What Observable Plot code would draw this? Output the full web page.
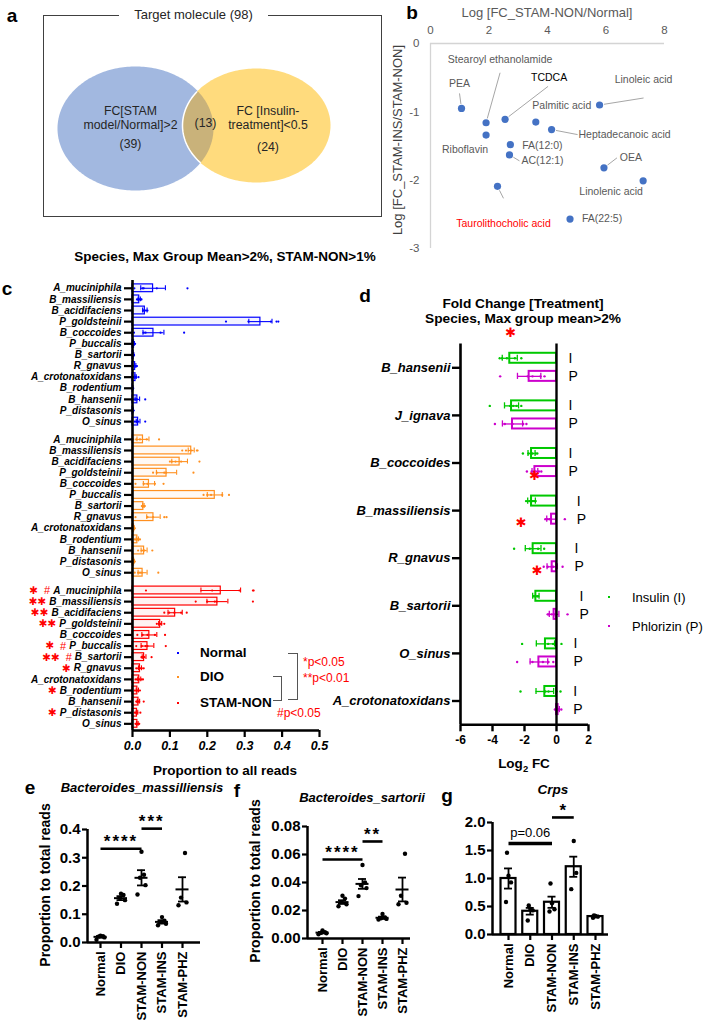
<!DOCTYPE html>
<html>
<head>
<meta charset="utf-8">
<script src="https://cdn.jsdelivr.net/npm/d3@7"></script>
<script src="https://cdn.jsdelivr.net/npm/@observablehq/plot@0.6"></script>
<style>
html,body{margin:0;padding:0;background:#fff;}
#fig{position:relative;width:703px;height:1020px;overflow:hidden;background:#fff;font-family:'Liberation Sans',Arial,sans-serif;}
#fig .t{position:absolute;white-space:pre;line-height:1;}
#fig svg{position:absolute;overflow:visible;}
</style>
</head>
<body>
<div id="fig"></div>
<script>
// ================= DATA =================
// a: Venn
const vennSetLabels = ["FC[STAM\nmodel/Normal]>2", "FC [Insulin-\ntreatment]<0.5"];
const vennCounts = [39, 13, 24];
const vennTotal = 98;

// b: metabolites
const metNames = ["PEA","Stearoyl ethanolamide","Riboflavin","TCDCA","Palmitic acid","Heptadecanoic acid","Linoleic acid","FA(12:0)","AC(12:1)","OEA","Linolenic acid","Taurolithocholic acid","FA(22:5)"];
const metLogFcStamNormal = [1.06,1.90,1.90,2.55,3.60,4.14,5.78,2.73,2.70,5.93,7.27,2.29,4.77];
const metLogFcInsNon = [-0.95,-1.16,-1.34,-1.11,-1.15,-1.26,-0.90,-1.48,-1.63,-1.82,-2.01,-2.09,-2.57];

// c: species proportions
const cSpecies = ["A_muciniphila","B_massiliensis","B_acidifaciens","P_goldsteinii","B_coccoides","P_buccalis","B_sartorii","R_gnavus","A_crotonatoxidans","B_rodentium","B_hansenii","P_distasonis","O_sinus"];
const cGroups = ["Normal","DIO","STAM-NON"];
const cMeanNormal = [0.055,0.018,0.033,0.342,0.056,0.004,0.003,0.007,0.008,0.001,0.013,0.002,0.015];
const cSemNormal  = [0.033,0.003,0.006,0.031,0.028,0.001,0.0005,0.002,0.002,0.0003,0.006,0.0004,0.005];
const cDotsNormal = [[0.005,0.027,0.03,0.065,0.147],[0.012,0.015,0.018,0.022,0.024],[0.028,0.03,0.032,0.036,0.04],[0.25,0.31,0.37,0.385,0.39],[0.004,0.03,0.035,0.075,0.138],[0.002,0.003,0.004,0.005,0.007],[0.002,0.002,0.003,0.004,0.004],[0.003,0.005,0.007,0.009,0.012],[0.003,0.005,0.008,0.01,0.016],[0,0.001,0.001,0.001,0.002],[0.004,0.008,0.01,0.012,0.034],[0.001,0.001,0.002,0.002,0.003],[0.006,0.01,0.012,0.015,0.034]];
const cMeanDIO = [0.028,0.157,0.126,0.091,0.044,0.22,0.029,0.056,0.004,0.013,0.031,0.004,0.027];
const cSemDIO  = [0.016,0.008,0.021,0.027,0.015,0.02,0.002,0.018,0.001,0.003,0.008,0.001,0.012];
const cDotsDIO = [[0.002,0.01,0.02,0.038,0.071],[0.133,0.143,0.158,0.172,0.174],[0.1,0.105,0.115,0.13,0.179],[0.055,0.065,0.085,0.09,0.163],[0.008,0.03,0.04,0.06,0.083],[0.19,0.2,0.21,0.24,0.258],[0.025,0.027,0.029,0.031,0.033],[0.008,0.04,0.055,0.085,0.091],[0.002,0.003,0.004,0.005,0.006],[0.006,0.01,0.013,0.016,0.02],[0.015,0.025,0.03,0.032,0.053],[0.002,0.003,0.004,0.005,0.006],[0.006,0.015,0.02,0.025,0.069]];
const cMeanStam = [0.236,0.227,0.114,0.074,0.045,0.04,0.031,0.02,0.018,0.013,0.016,0.012,0.013];
const cSemStam  = [0.053,0.028,0.019,0.004,0.02,0.017,0.005,0.004,0.004,0.003,0.003,0.002,0.002];
const cDotsStam = [[0.036,0.213,0.286,0.322,0.324],[0.169,0.2,0.22,0.225,0.322],[0.085,0.098,0.112,0.13,0.145],[0.065,0.07,0.074,0.077,0.085],[0.013,0.027,0.04,0.06,0.087],[0.01,0.025,0.035,0.04,0.089],[0.024,0.027,0.029,0.031,0.051],[0.01,0.015,0.02,0.025,0.03],[0.008,0.012,0.018,0.024,0.028],[0.006,0.01,0.013,0.016,0.02],[0.01,0.012,0.015,0.018,0.03],[0.006,0.009,0.011,0.013,0.021],[0.008,0.01,0.013,0.016,0.018]];
const cSigStar = [1,2,2,2,0,1,2,1,0,1,0,1,0];
const cSigHash = ["#","","","","","#","#","","","","","",""];
const cPNotes = ["*p<0.05","**p<0.01","#p<0.05"];
const cXTicks = [0,0.1,0.2,0.3,0.4,0.5];

// d: fold change
const dSpecies = ["B_hansenii","J_ignava","B_coccoides","B_massiliensis","R_gnavus","B_sartorii","O_sinus","A_crotonatoxidans"];
const dTreat = ["Insulin (I)","Phlorizin (P)"];
const dTreatTag = ["I","P"];
const dInsMean = [-2.92,-2.81,-1.56,-1.56,-1.46,-1.29,-0.69,-0.73];
const dInsSem  = [0.47,0.44,0.22,0.24,0.49,0.2,0.57,0.55];
const dInsDots = [[-3.55,-3.4,-3.1,-2.6,-2.2],[-4.17,-2.9,-2.7,-2.5,-2.2],[-2.1,-1.75,-1.5,-1.3,-1.2],[-1.9,-1.7,-1.5,-1.4,-1.3],[-2.65,-1.67,-1.15,-0.77],[-1.45,-1.35,-1.3,-1.2,-1.15],[-2.15,-0.52,-0.21,0.31],[-2.25,-0.7,-0.5,0.0,0.25]];
const dPhzMean = [-1.71,-2.75,-1.35,-0.31,-0.27,-0.15,-1.1,0.1];
const dPhzSem  = [0.73,0.63,0.18,0.3,0.32,0.3,0.55,0.08];
const dPhzDots = [[-3.52,-1.8,-1.5,-1.0,-0.75],[-3.85,-3.23,-2.75,-2.08,-1.88],[-1.85,-1.55,-1.3,-1.1,-0.95],[-0.7,-0.55,-0.42,-0.4,0.52],[-0.8,-0.55,-0.3,-0.2,0.38],[-0.55,-0.5,-0.3,-0.1,0.69],[-2.46,-1.5,-0.85,-0.5,-0.2],[-0.1,0.05,0.1,0.15,0.3]];
const dSigSpecies = ["B_hansenii","B_coccoides","B_massiliensis","R_gnavus"];
const dSigTreat = ["I","P","P","P"];
const dSigX = [-2.87,-1.37,-2.2,-1.2];
const dXTicks = [-6,-4,-2,0,2];

// e, f, g
const efgGroups = ["Normal","DIO","STAM-NON","STAM-INS","STAM-PHZ"];
const eMean = [0.02,0.157,0.229,0.073,0.188];
const eSem  = [0.003,0.007,0.027,0.006,0.043];
const eDots = [[0.01,0.018,0.021,0.022,0.024],[0.137,0.15,0.158,0.168,0.173],[0.17,0.203,0.229,0.24,0.321],[0.061,0.066,0.072,0.077,0.09],[0.132,0.142,0.159,0.317]];
const eSigPairs = [[0,2],[2,3]], eSigText = ["****","***"], eSigLevel = [0.332,0.403];
const fMean = [0.0042,0.026,0.039,0.0148,0.035];
const fSem  = [0.0005,0.0013,0.0035,0.0008,0.0085];
const fDots = [[0.003,0.0038,0.004,0.0045,0.0058],[0.023,0.0245,0.026,0.0285,0.0305],[0.0303,0.036,0.038,0.04,0.0525],[0.0135,0.014,0.0145,0.015,0.0175],[0.0245,0.0255,0.0305,0.0605]];
const fSigPairs = [[0,2],[2,3]], fSigText = ["****","**"], fSigLevel = [0.0564,0.0693];
const gMean = [1.0,0.415,0.576,1.21,0.32];
const gSem  = [0.18,0.06,0.1,0.18,0.015];
const gDots = [[0.58,0.93,1.05,1.46],[0.25,0.43,0.46,0.52],[0.41,0.45,0.56,0.91],[0.81,1.1,1.67],[0.3,0.32,0.33,0.34]];
const gSigPairs = [[0,2],[2,3]], gSigText = ["p=0.06","*"], gSigLevel = [1.625,2.09];

// ================= LAYOUT / STYLE =================
const F = "'Liberation Sans', Arial, sans-serif";
const STAR = "\u2731";
const STAR_FONT = "'DejaVu Sans', sans-serif";
const fig = document.getElementById("fig");
const cColors = {"Normal":"#0000ff","DIO":"#ff9020","STAM-NON":"#ff0000"};
const dColors = ["#00c800","#cc00cc"];
const metLabelColor = {"TCDCA":"#000000","Taurolithocholic acid":"#ff0000"};
// label centre offset [dx,dy] from point and optional leader end [lx,ly], px
const metLabelLayout = {
  "PEA":[-2,-25,-2,-15], "Stearoyl ethanolamide":[14,-63,14,-50], "Riboflavin":[-21,15],
  "TCDCA":[44,-42,43,-33], "Palmitic acid":[26,-16], "Heptadecanoic acid":[73,5,26,5],
  "Linoleic acid":[44,-25,44,-7], "FA(12:0)":[32,0.5], "AC(12:1)":[33,6,10,6],
  "OEA":[27,-10,13,-10], "Linolenic acid":[-32,11], "Taurolithocholic acid":[6,37,6,12],
  "FA(22:5)":[32,0]
};

function put(svg, left, top) {
  svg.style.position = "absolute";
  svg.style.left = left + "px";
  svg.style.top = top + "px";
  svg.style.maxWidth = "none";
  svg.style.height = svg.getAttribute("height") + "px";
  svg.style.background = "transparent";
  svg.style.overflow = "visible";
  fig.appendChild(svg);
  return svg;
}
function txt(html, x, y, o = {}) {
  const d = document.createElement("div");
  d.className = "t";
  d.innerHTML = html;
  const s = d.style;
  s.left = x + "px"; s.top = y + "px";
  s.fontSize = (o.size || 12) + "px";
  s.fontWeight = o.bold ? "bold" : "normal";
  s.fontStyle = o.italic ? "italic" : "normal";
  s.color = o.color || "#000";
  if (o.lh) s.lineHeight = o.lh;
  const ax = o.anchor === "start" ? "0" : o.anchor === "end" ? "-100%" : "-50%";
  s.transform = `translate(${ax},-50%)` + (o.rotate ? ` rotate(${o.rotate}deg)` : "");
  fig.appendChild(d);
  return d;
}
function box(x, y, w, h, css) {
  const d = document.createElement("div");
  Object.assign(d.style, {position:"absolute", left:x+"px", top:y+"px", width:w+"px", height:h+"px", boxSizing:"border-box"}, css);
  fig.appendChild(d);
  return d;
}

// ================= PANEL A =================
box(43, 15, 339, 202, {border:"1px solid #404040"});
{
  const W = 390, H = 225;
  const eA = {cx:135, cy:128, rx:78, ry:62}, eB = {cx:256, cy:125, rx:74, ry:57};
  const ring = (e, t0) => d3.range(0, 241).map(k => { const t = t0 + 2*Math.PI*k/240; return {x: e.cx + e.rx*Math.cos(t), y: e.cy + e.ry*Math.sin(t)}; });
  const inside = (p, e) => ((p.x-e.cx)/e.rx)**2 + ((p.y-e.cy)/e.ry)**2 <= 1.0001;
  const ringA = ring(eA, -Math.PI), ringB = ring(eB, 0);
  const arcA = ringA.filter(p => inside(p, eB));
  const arcB = ringB.filter(p => inside(p, eA));
  const lens = arcA.concat(arcB);
  const labels = [
    {x:130, y:117, t:vennSetLabels[0]}, {x:267.5, y:117, t:vennSetLabels[1]},
    {x:130, y:143, t:`(${vennCounts[0]})`}, {x:205, y:122, t:`(${vennCounts[1]})`}, {x:267.5, y:146, t:`(${vennCounts[2]})`}
  ];
  put(Plot.plot({
    width:W, height:H, margin:0,
    x:{domain:[0,W], axis:null}, y:{domain:[0,H], axis:null, reverse:true},
    style:{fontFamily:F, fontSize:"12.3px", background:"transparent", overflow:"visible"},
    marks:[
      Plot.line(ringA, {x:"x", y:"y", fill:"#a2b8e0", stroke:"none"}),
      Plot.line(ringB, {x:"x", y:"y", fill:"#ffdb7d", stroke:"none"}),
      Plot.line(lens, {x:"x", y:"y", fill:"#c9b27a", stroke:"none"}),
      Plot.line(arcB, {x:"x", y:"y", stroke:"#ffffff", strokeWidth:1.5}),
      Plot.text(labels, {x:"x", y:"y", text:"t", fill:"#262626", lineHeight:1.17})
    ]
  }), 0, 0);
}
box(119, 7, 149, 16, {background:"#fff"});
txt(`Target molecule (${vennTotal})`, 193.5, 14, {size:13, color:"#262626"});

// ================= PANEL B =================
{
  const W=343, H=260, ml=70, mr=39, mt=43, mb=12;
  const kx = (W-ml-mr)/8, ky = (H-mt-mb)/3;
  const met = metNames.map((n,i) => {
    const L = metLabelLayout[n], x = metLogFcStamNormal[i], y = metLogFcInsNon[i];
    return {n, x, y, lx: x + L[0]/kx, ly: y - L[1]/ky, color: metLabelColor[n] || "#595959", L};
  });
  const leaders = met.filter(d => d.L.length > 2).map(d => {
    const len = Math.hypot(d.L[2], d.L[3]);
    const ux = d.L[2]/len, uy = d.L[3]/len;
    return {x1: d.x + ux*4.5/kx, y1: d.y - uy*4.5/ky, x2: d.x + d.L[2]/kx, y2: d.y - d.L[3]/ky};
  });
  put(Plot.plot({
    width:W, height:H, marginLeft:ml, marginRight:mr, marginTop:mt, marginBottom:mb,
    x:{domain:[0,8]}, y:{domain:[-3,0]}, color:{type:"identity"},
    style:{fontFamily:F, fontSize:"11px", background:"transparent", overflow:"visible"},
    marks:[
      Plot.ruleY([0], {stroke:"#d4d4d4", strokeWidth:1.3}),
      Plot.ruleX([0], {stroke:"#d4d4d4", strokeWidth:1.3}),
      Plot.axisX({anchor:"top", ticks:[0,2,4,6,8], tickSize:0, tickPadding:10, color:"#595959", fontSize:11.5, label:null}),
      Plot.axisY({anchor:"left", ticks:[0,-1,-2,-3], tickSize:0, tickPadding:11, color:"#595959", fontSize:11.5, label:null, tickFormat:d=>String(d)}),
      Plot.link(leaders, {x1:"x1", y1:"y1", x2:"x2", y2:"y2", stroke:"#a6a6a6", strokeWidth:1}),
      Plot.dot(met, {x:"x", y:"y", r:3.6, fill:"#4472c4", stroke:null}),
      Plot.text(met, {x:"lx", y:"ly", text:"n", fill:"color", fontSize:10.5})
    ]
  }), 360, 0);
  txt("Log [FC_STAM-NON/Normal]", 547, 12, {size:13, color:"#595959"});
  txt("Log [FC_STAM-INS/STAM-NON]", 397, 140, {size:13, color:"#404040", rotate:-90});
}

// ================= PANEL C =================
{
  const W=360, H=500, ml=132, mr=41, mt=10, mb=40;
  const stride = cSpecies.length + 0.6;
  const means = [cMeanNormal, cMeanDIO, cMeanStam], sems = [cSemNormal, cSemDIO, cSemStam], dots = [cDotsNormal, cDotsDIO, cDotsStam];
  const rows = cGroups.flatMap((g, gi) => cSpecies.map((s, si) => ({g, s, si, gi, pos: gi*stride + si, mean: means[gi][si], sem: sems[gi][si], dots: dots[gi][si], color: cColors[g]})));
  const pts = rows.flatMap(r => r.dots.map(v => ({v, pos: r.pos, color: r.color})));
  const yMax = 2*stride + cSpecies.length - 1 + 0.6;
  const ctx = document.createElement("canvas").getContext("2d");
  ctx.font = `italic bold 10px ${F}`;
  const marks = [];
  cSpecies.forEach((s, si) => {
    const pos = 2*stride + si;
    const w = ctx.measureText(s).width;
    let edge = -(8 + 3 + w + 3);
    if (cSigHash[si]) {
      marks.push(Plot.text([pos], {x:0, y:d=>d, text:()=>cSigHash[si], dx:edge, textAnchor:"end", fill:"#ff0000", fontSize:11, fontWeight:"normal", fontStyle:"normal"}));
      edge -= 12;
    }
    if (cSigStar[si]) {
      marks.push(Plot.text([pos], {x:0, y:d=>d, text:()=>STAR.repeat(cSigStar[si]), dx:edge, textAnchor:"end", fill:"#ff0000", fontSize:10.5, fontFamily:STAR_FONT, fontWeight:"normal", fontStyle:"normal"}));
    }
  });
  put(Plot.plot({
    width:W, height:H, marginLeft:ml, marginRight:mr, marginTop:mt, marginBottom:mb,
    x:{domain:[0,0.5]}, y:{domain:[-0.7, yMax], reverse:true}, color:{type:"identity"},
    style:{fontFamily:F, fontSize:"10px", fontWeight:"bold", background:"transparent", overflow:"visible"},
    marks:[
      Plot.rect(rows, {x1:0, x2:"mean", y1:d=>d.pos-0.35, y2:d=>d.pos+0.35, stroke:"color", fill:"color", fillOpacity:0.05, strokeWidth:1.2}),
      Plot.ruleY(rows, {y:"pos", x1:d=>d.mean-d.sem, x2:d=>d.mean+d.sem, stroke:"color", strokeWidth:1.1}),
      Plot.ruleX(rows, {x:d=>d.mean-d.sem, y1:d=>d.pos-0.22, y2:d=>d.pos+0.22, stroke:"color", strokeWidth:1.1}),
      Plot.ruleX(rows, {x:d=>d.mean+d.sem, y1:d=>d.pos-0.22, y2:d=>d.pos+0.22, stroke:"color", strokeWidth:1.1}),
      Plot.dot(pts, {x:"v", y:"pos", r:1.1, fill:"color", stroke:null}),
      Plot.ruleX([0], {strokeWidth:2.6}),
      Plot.ruleY([yMax], {strokeWidth:2.6}),
      Plot.axisY({ticks: rows.map(d=>d.pos), tickFormat: p => { const r = rows.find(d => Math.abs(d.pos-p) < 1e-6); return r ? r.s : ""; }, tickSize:8, tickPadding:3, strokeWidth:2.2, fontSize:10, fontStyle:"italic", fontWeight:"bold", label:null}),
      Plot.axisX({ticks:cXTicks, tickFormat:d3.format(".1f"), tickSize:7, tickPadding:4, strokeWidth:2.2, fontSize:12.5, fontStyle:"italic", fontWeight:"bold", label:null}),
      ...marks
    ]
  }), 0, 270);
  txt("Species, Max Group Mean>2%, STAM-NON>1%", 225, 257, {size:13.5, bold:true});
  txt("Proportion to all reads", 225, 771, {size:13.5, bold:true});
  const legY = [653, 677, 703];
  cGroups.forEach((g, i) => {
    box(177, legY[i]-1.2, 2.4, 2.4, {background:cColors[g]});
    txt(g, 200, legY[i], {size:13.5, bold:true, anchor:"start"});
  });
  box(288, 653, 10, 47, {borderTop:"1px solid #555", borderRight:"1px solid #555", borderBottom:"1px solid #555"});
  box(273, 676, 9, 25, {borderTop:"1px solid #555", borderRight:"1px solid #555", borderBottom:"1px solid #555"});
  txt(cPNotes[0], 303, 662, {size:12, color:"#ff0000", anchor:"start"});
  txt(cPNotes[1], 303, 678, {size:12, color:"#ff0000", anchor:"start"});
  txt(cPNotes[2], 277, 713, {size:12, color:"#ff0000", anchor:"start"});
}

// ================= PANEL D =================
{
  const W=343, H=450, ml=100, mr=115, mt=13.5, mb=55.7;
  const off = [-0.2, 0.18];
  const series = [[dInsMean,dInsSem,dInsDots],[dPhzMean,dPhzSem,dPhzDots]];
  const rows = [];
  dSpecies.forEach((s,i) => series.forEach(([m,se,dt],k) => rows.push({s, i, k, pos:i+off[k], mean:m[i], sem:se[i], dots:dt[i], color:dColors[k], tag:dTreatTag[k]})));
  const pts = rows.flatMap(r => r.dots.map(v => ({v, pos:r.pos, color:r.color})));
  const tags = rows.map(r => ({...r, xm: Math.max(0, ...rows.filter(q => q.i === r.i).flatMap(q => q.dots))}));
  const sig = dSigSpecies.map((s,j) => { const i = dSpecies.indexOf(s), k = dTreatTag.indexOf(dSigTreat[j]); return {x:dSigX[j], pos:i + off[k] + (k === 0 ? -0.53 : 0.08)}; });
  put(Plot.plot({
    width:W, height:H, marginLeft:ml, marginRight:mr, marginTop:mt, marginBottom:mb,
    x:{domain:[-6,2]}, y:{domain:[-0.5,7.5], reverse:true}, color:{type:"identity"},
    style:{fontFamily:F, fontSize:"12px", fontWeight:"bold", background:"transparent", overflow:"visible"},
    marks:[
      Plot.rect(rows, {x1:0, x2:"mean", y1:d=>d.pos-0.105, y2:d=>d.pos+0.105, stroke:"color", strokeWidth:2, fill:"white"}),
      Plot.ruleY(rows, {y:"pos", x1:d=>d.mean-d.sem, x2:d=>d.mean+d.sem, stroke:"color", strokeWidth:1.3}),
      Plot.ruleX(rows, {x:d=>d.mean-d.sem, y1:d=>d.pos-0.065, y2:d=>d.pos+0.065, stroke:"color", strokeWidth:1.3}),
      Plot.ruleX(rows, {x:d=>d.mean+d.sem, y1:d=>d.pos-0.065, y2:d=>d.pos+0.065, stroke:"color", strokeWidth:1.3}),
      Plot.dot(pts, {x:"v", y:"pos", r:1.2, fill:"color", stroke:null}),
      Plot.ruleX([0], {strokeWidth:2.4}),
      Plot.ruleX([-6], {strokeWidth:2.6}),
      Plot.ruleY([7.5], {strokeWidth:2.6}),
      Plot.axisY({ticks:d3.range(dSpecies.length), tickFormat:i=>dSpecies[i], tickSize:8, tickPadding:2, strokeWidth:2.4, fontSize:13, fontStyle:"italic", fontWeight:"bold", label:null}),
      Plot.axisX({ticks:dXTicks, tickFormat:d=>String(d), tickSize:7, tickPadding:4, strokeWidth:2.4, fontSize:12, fontWeight:"bold", label:null}),
      Plot.text(tags, {x:"xm", y:"pos", text:"tag", dx:12, textAnchor:"start", fontSize:14, fontWeight:"normal"}),
      Plot.text(sig, {x:"x", y:"pos", text:()=>STAR, fill:"#ff0000", fontSize:13, fontFamily:STAR_FONT, fontWeight:"normal"})
    ]
  }), 360, 330);
  txt("Fold Change [Treatment]", 523, 304, {size:13.7, bold:true});
  txt("Species, Max group mean>2%", 523, 319, {size:13.7, bold:true});
  txt("Log<sub style='font-size:70%'>2</sub> FC", 524, 765, {size:13.5, bold:true});
  const legY = [597, 626];
  dTreat.forEach((t, k) => {
    box(608, legY[k]-1.2, 2.4, 2.4, {background:dColors[k]});
    txt(t, 632, legY[k], {size:13, anchor:"start"});
  });
}

// ================= PANELS E, F, G =================
function dotPanel(cfg) {
  const {left, top, W, H, ml, mr, mt, mb, xDom, yDom, yTicks, yFmt, mean, sem, dots, pairs, texts, levels, bars} = cfg;
  const kx = (W-ml-mr)/(xDom[1]-xDom[0]);
  const rows = efgGroups.map((g,i) => ({i, mean:mean[i], sem:sem[i]}));
  const spread = bars ? [-2.5, 2.5, 0, -1.5, 1.5] : [-4, 4, -1.5, 2.5, 0];
  const pts = dots.flatMap((arr,i) => arr.map((v,k) => ({x: i + spread[k]/kx, v})));
  const marks = [];
  if (bars) marks.push(Plot.rect(rows, {x1:d=>d.i-7.5/kx, x2:d=>d.i+7.5/kx, y1:yDom[0], y2:"mean", fill:"white", stroke:"black", strokeWidth:2.2}));
  marks.push(
    Plot.ruleX(rows, {x:"i", y1:d=>d.mean-d.sem, y2:d=>d.mean+d.sem, strokeWidth:1.8}),
    Plot.ruleY(rows, {y:d=>d.mean+d.sem, x1:d=>d.i-4/kx, x2:d=>d.i+4/kx, strokeWidth:1.8}),
    Plot.ruleY(rows, {y:d=>d.mean-d.sem, x1:d=>d.i-4/kx, x2:d=>d.i+4/kx, strokeWidth:1.8})
  );
  if (!bars) marks.push(Plot.ruleY(rows, {y:"mean", x1:d=>d.i-6.5/kx, x2:d=>d.i+6.5/kx, strokeWidth:2}));
  marks.push(
    Plot.dot(pts, {x:"x", y:"v", r:2.2, fill:"black", stroke:null}),
    Plot.ruleX([xDom[0]], {strokeWidth:2.5}),
    Plot.ruleY([yDom[0]], {strokeWidth:2.5}),
    Plot.axisY({ticks:yTicks, tickFormat:d3.format(yFmt), tickSize:5, tickPadding:2, strokeWidth:2.2, fontSize:15, fontWeight:"bold", label:null}),
    Plot.axisX({ticks:d3.range(efgGroups.length), tickFormat:i=>efgGroups[i], tickRotate:-90, tickSize:6, tickPadding:3, strokeWidth:2.2, fontSize:13, fontWeight:"bold", label:null})
  );
  pairs.forEach((p, j) => {
    const s = {from:p[0], to:p[1], y:levels[j], t:texts[j]};
    const star = /^\*+$/.test(s.t);
    marks.push(Plot.link([s], {x1:"from", x2:"to", y1:"y", y2:"y", strokeWidth: bars && j === 0 ? 3.4 : 2.6}));
    marks.push(Plot.text([s], {x:d=>(d.from+d.to)/2, y:"y", text:"t", dy: star ? -7 : -11, fontSize: star ? 17 : 13, fontWeight: star ? "bold" : "normal"}));
  });
  put(Plot.plot({
    width:W, height:H, marginLeft:ml, marginRight:mr, marginTop:mt, marginBottom:mb,
    x:{domain:xDom}, y:{domain:yDom},
    style:{fontFamily:F, fontSize:"13px", fontWeight:"bold", background:"transparent", overflow:"visible"},
    marks
  }), left, top);
}
dotPanel({left:0, top:800, W:240, H:220, ml:87, mr:40, mt:29, mb:78, xDom:[-0.634,4.878], yDom:[0,0.4], yTicks:[0,0.1,0.2,0.3,0.4], yFmt:".1f", mean:eMean, sem:eSem, dots:eDots, pairs:eSigPairs, texts:eSigText, levels:eSigLevel, bars:false});
dotPanel({left:230, top:800, W:240, H:220, ml:77, mr:60, mt:26, mb:82, xDom:[-0.75,4.4], yDom:[0,0.08], yTicks:[0,0.02,0.04,0.06,0.08], yFmt:".2f", mean:fMean, sem:fSem, dots:fDots, pairs:fSigPairs, texts:fSigText, levels:fSigLevel, bars:false});
dotPanel({left:460, top:800, W:243, H:220, ml:32, mr:95, mt:22, mb:86, xDom:[-0.736,4.598], yDom:[0,2], yTicks:[0,0.5,1,1.5,2], yFmt:".1f", mean:gMean, sem:gSem, dots:gDots, pairs:gSigPairs, texts:gSigText, levels:gSigLevel, bars:true});
txt("Bacteroides_massilliensis", 142, 787, {size:13, bold:true, italic:true});
txt("Bacteroides_sartorii", 362, 797, {size:13, bold:true, italic:true});
txt("Crps", 553, 790, {size:13.5, bold:true, italic:true});
txt("Proportion to total reads", 45, 885, {size:14, bold:true, rotate:-90});
txt("Proportion to total reads", 255, 881, {size:14, bold:true, rotate:-90});

// panel letters
[["a",12,15],["b",412,12],["c",7,288],["d",365,295],["e",30,787],["f",237,790],["g",447,795]].forEach(([l,x,y]) => txt(l, x, y, {size:19, bold:true}));

// letter spacing for multi-asterisk significance marks
d3.selectAll("#fig svg text").filter(function(){ return /^\*{2,}$/.test(this.textContent); }).attr("letter-spacing", "2px");
</script>
</body>
</html>
